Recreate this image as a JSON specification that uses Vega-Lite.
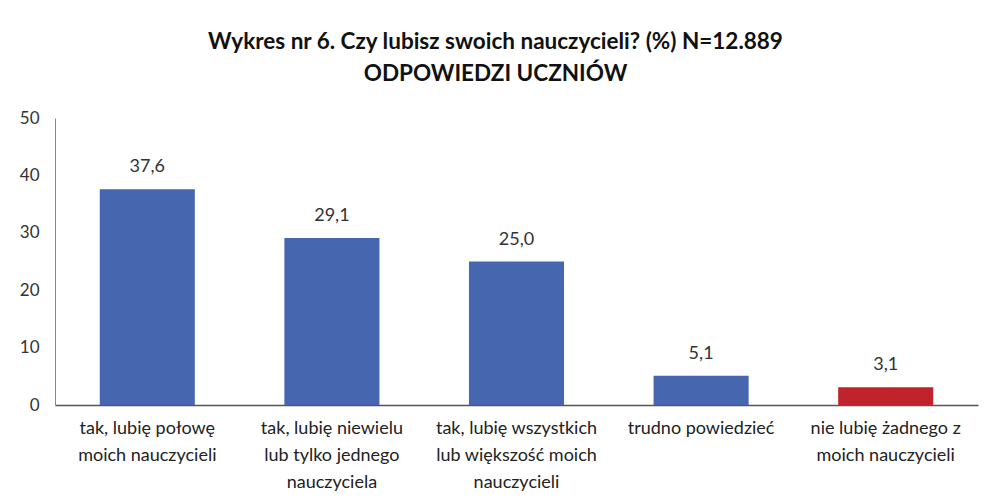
{
  "$schema": "https://vega.github.io/schema/vega-lite/v6.json",
  "width": 923,
  "height": 287,
  "autosize": {"type": "none"},
  "padding": {"left": 55, "top": 118, "right": 10, "bottom": 97},
  "background": "white",
  "config": {
    "view": {"stroke": null},
    "locale": {"number": {"decimal": ",", "thousands": ".", "grouping": [3], "currency": ["", " zł"]}},
    "font": "Lato"
  },
  "title": {
    "text": ["Wykres nr 6. Czy lubisz swoich nauczycieli? (%) N=12.889", "ODPOWIEDZI UCZNIÓW"],
    "font": "Lato",
    "fontSize": 22.5,
    "fontWeight": "bold",
    "color": "#111111",
    "anchor": "middle",
    "lineHeight": 32,
    "offset": 24,
    "dx": -21
  },
  "data": {
    "values": [
      {"kategoria": "tak, lubię połowę|moich nauczycieli", "procent": 37.6},
      {"kategoria": "tak, lubię niewielu|lub tylko jednego|nauczyciela", "procent": 29.1},
      {"kategoria": "tak, lubię wszystkich|lub większość moich|nauczycieli", "procent": 25.0},
      {"kategoria": "trudno powiedzieć", "procent": 5.1},
      {"kategoria": "nie lubię żadnego z|moich nauczycieli", "procent": 3.1}
    ]
  },
  "encoding": {
    "x": {
      "field": "kategoria",
      "type": "nominal",
      "sort": null,
      "title": null,
      "scale": {"paddingInner": 0.485, "paddingOuter": 0.2425},
      "axis": {
        "labelAngle": 0,
        "labelExpr": "split(datum.label, '|')",
        "labelFontSize": 18,
        "labelLineHeight": 27,
        "labelColor": "#222222",
        "labelPadding": 14,
        "labelBaseline": "top",
        "labelLimit": 300,
        "ticks": false,
        "domainColor": "#555555",
        "domainWidth": 1.5
      }
    },
    "y": {
      "field": "procent",
      "type": "quantitative",
      "title": null,
      "scale": {"domain": [0, 50]},
      "axis": {
        "values": [0, 10, 20, 30, 40, 50],
        "grid": false,
        "ticks": false,
        "domainColor": "#888888",
        "labelFontSize": 17,
        "labelColor": "#333333",
        "labelPadding": 16
      }
    }
  },
  "layer": [
    {
      "mark": {"type": "bar"},
      "encoding": {
        "color": {
          "field": "kategoria",
          "type": "nominal",
          "legend": null,
          "scale": {
            "domain": [
              "tak, lubię połowę|moich nauczycieli",
              "tak, lubię niewielu|lub tylko jednego|nauczyciela",
              "tak, lubię wszystkich|lub większość moich|nauczycieli",
              "trudno powiedzieć",
              "nie lubię żadnego z|moich nauczycieli"
            ],
            "range": ["#4766B0", "#4766B0", "#4766B0", "#4766B0", "#C0232B"]
          }
        }
      }
    },
    {
      "mark": {"type": "text", "baseline": "bottom", "dy": -13, "fontSize": 18, "color": "#333333"},
      "encoding": {
        "text": {"field": "procent", "type": "quantitative", "format": ".1f"}
      }
    }
  ]
}
